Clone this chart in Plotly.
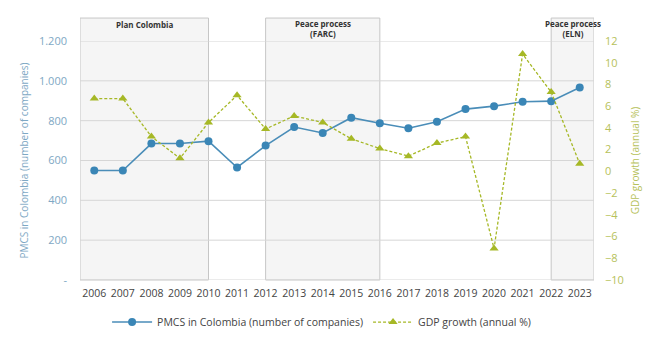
import plotly.graph_objects as go

years = list(range(2006, 2024))
pmcs = [550, 550, 685, 685, 697, 565, 675, 768, 738, 815, 787, 762, 795, 858, 873, 895, 898, 967]
gdp = [6.7, 6.7, 3.2, 1.2, 4.5, 7.0, 3.9, 5.1, 4.5, 3.0, 2.1, 1.4, 2.6, 3.2, -7.1, 10.8, 7.3, 0.7]

periods = [
    ("Plan Colombia", 2005.5, 2010),
    ("Peace process<br>(FARC)", 2012, 2016),
    ("Peace process<br>(ELN)", 2022, 2023.5),
]

left_ticks = [0, 200, 400, 600, 800, 1000, 1200]
left_labels = ["-", "200", "400", "600", "800", "1.000", "1.200"]
right_ticks = list(range(-10, 13, 2))

BLUE = "#3a86b6"
GREEN = "#a6b826"
FONT = "Open Sans"

fig = go.Figure()
fig.add_trace(go.Scatter(
    x=years, y=pmcs, name="PMCS in Colombia (number of companies)",
    mode="lines+markers",
    line=dict(color="#4a8db8", width=1.6),
    marker=dict(color=BLUE, size=8, symbol="circle"),
    yaxis="y",
))
fig.add_trace(go.Scatter(
    x=years, y=gdp, name="GDP growth (annual %)",
    mode="lines+markers",
    line=dict(color=GREEN, width=1.3, dash="3px,2px"),
    marker=dict(color=GREEN, size=8, symbol="triangle-up"),
    yaxis="y2",
))

shapes = []
annotations = []
for label, x0, x1 in periods:
    shapes.append(dict(
        type="rect", xref="x", yref="paper", x0=x0, x1=x1, y0=0, y1=1.096,
        fillcolor="#f5f5f5", line=dict(color="#c6c6c6", width=1), layer="below",
    ))
    nlines = label.count("<br>") + 1
    annotations.append(dict(
        xref="x", yref="paper", x=(x0 + x1) / 2, y=1.07 if nlines == 1 else 1.052,
        text="<b>" + label + "</b>", showarrow=False,
        font=dict(family=FONT, size=8, color="#333333"),
        xanchor="center", yanchor="middle",
    ))
# horizontal gridlines drawn above the period boxes
for v in left_ticks:
    shapes.append(dict(
        type="line", xref="paper", yref="y", x0=0, x1=1, y0=v, y1=v,
        line=dict(color="#d6d6d6", width=1), layer="below",
    ))

fig.update_layout(
    width=650, height=324,
    margin=dict(l=72, r=64, t=33, b=52, autoexpand=False),
    paper_bgcolor="white", plot_bgcolor="white",
    font=dict(family=FONT, size=11, color="#444444"),
    shapes=shapes, annotations=annotations,
    showlegend=True,
    legend=dict(orientation="h", x=0.47, xanchor="center", y=-0.176, yanchor="middle",
                font=dict(size=10.5, color="#444444"), itemwidth=40,
                tracegroupgap=0),
    xaxis=dict(
        range=[2005.5, 2023.5], tickmode="array", tickvals=years,
        ticktext=[str(y) for y in years], showgrid=False, zeroline=False,
        showline=False, ticks="", tickfont=dict(size=10.5, color="#444444"),
        ticklabelstandoff=5, automargin=False,
    ),
    yaxis=dict(
        range=[0, 1200], tickmode="array", tickvals=left_ticks, ticktext=left_labels,
        showgrid=False, zeroline=False,
        tickfont=dict(size=11, color="#7ea8c4"), ticks="", ticklabelstandoff=12,
        automargin=False,
        title=dict(text="PMCS in Colombia (number of companies)",
                   font=dict(size=10, color="#7ea8c4"), standoff=8),
    ),
    yaxis2=dict(
        range=[-10, 12], overlaying="y", side="right", tickmode="array",
        tickvals=right_ticks, showgrid=False, zeroline=False,
        tickfont=dict(size=11, color="#b6c15a"), ticks="", ticklabelstandoff=10,
        automargin=False,
        title=dict(text="GDP growth (annual %)", font=dict(size=10, color="#b6c15a"),
                   standoff=9),
    ),
)

fig.write_html("out.html")
